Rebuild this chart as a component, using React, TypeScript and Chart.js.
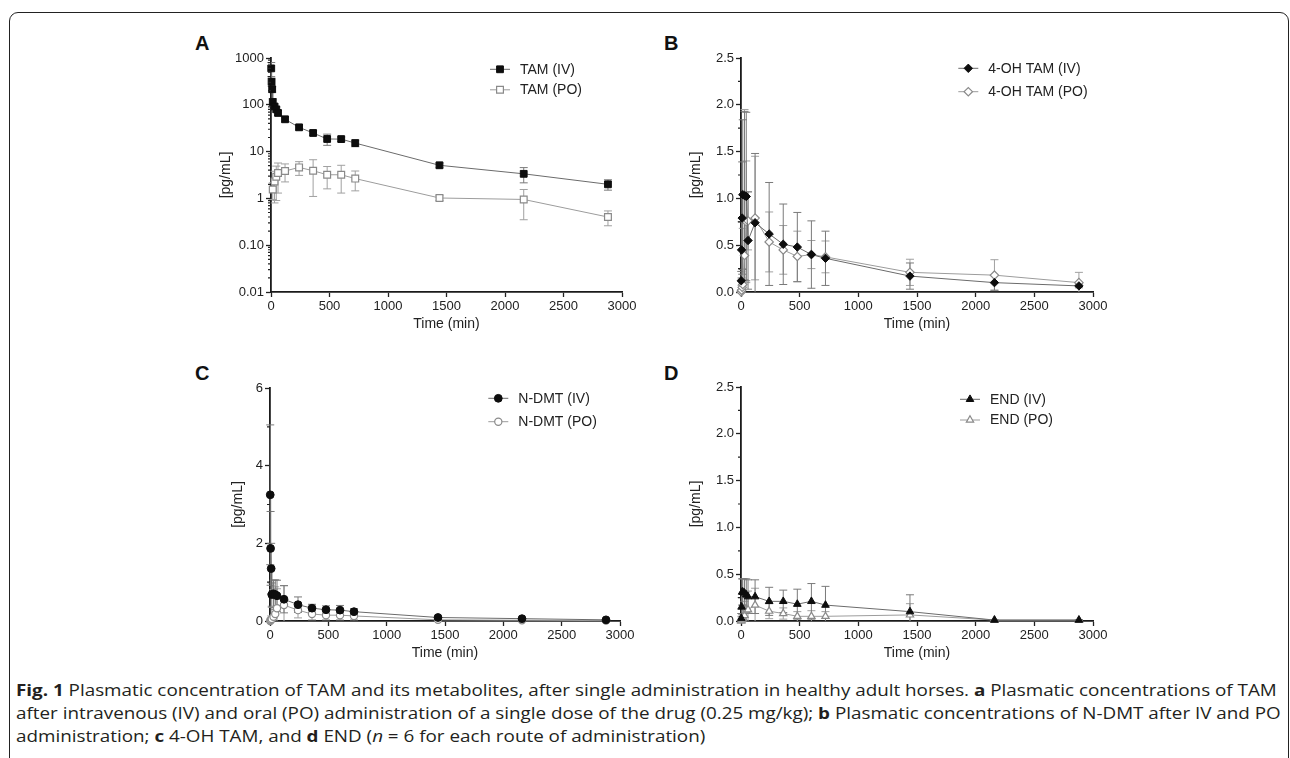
import React, { useEffect, useLayoutEffect, useRef, useState } from 'react';
import { Chart, registerables } from 'chart.js';

Chart.register(...registerables);

const FONT = "'Liberation Sans', Arial, Helvetica, sans-serif";

// ---------------- data ----------------
const TIMES = [2, 5, 10, 15, 30, 45, 60, 120, 240, 360, 480, 600, 720, 1440, 2160, 2880];
const X_TICKS = [0, 500, 1000, 1500, 2000, 2500, 3000];

// Panel A – TAM (log axis)
const TAM_IV = [600, 310, 215, 115, 92, 80, 67, 49, 33, 25, 18.6, 18.5, 15.2, 5.1, 3.35, 2.0];
const TAM_IV_SD = [200, 60, 30, 20, 12, 10, 8, 6, 4, 3, 5, 2, 2.5, 0.6, 1.2, 0.5];
const TAM_PO = [null, null, null, 1.55, 2.3, 2.9, 3.5, 3.85, 4.6, 3.9, 3.2, 3.2, 2.65, 1.02, 0.95, 0.4];
const TAM_PO_SD = [0, 0, 0, 0.6, 1.5, 2.0, 2.2, 1.6, 1.5, 2.8, 1.6, 1.9, 1.2, 0.12, 0.6, 0.14];
const A_TICKS = [0.01, 0.1, 1, 10, 100, 1000];
const A_TICK_LABELS = ['0.01', '0.10', '1', '10', '100', '1000'];

// Panel B – 4-OH TAM
const OH_IV = [0.12, 0.45, 0.79, 1.04, 1.03, 1.02, 0.55, 0.74, 0.62, 0.51, 0.48, 0.4, 0.36, 0.17, 0.1, 0.065];
const OH_IV_SD = [0.1, 0.3, 0.6, 0.8, 0.9, 0.9, 0.52, 0.74, 0.55, 0.43, 0.37, 0.36, 0.29, 0.14, 0.08, 0.02];
const OH_PO = [0.0, 0.02, 0.05, 0.08, 0.39, 0.75, 0.76, 0.79, 0.535, 0.45, 0.38, 0.4, 0.375, 0.21, 0.18, 0.1];
const OH_PO_SD = [0, 0.05, 0.2, 0.6, 1.56, 0.65, 0.31, 0.66, 0.32, 0.26, 0.27, 0.15, 0.17, 0.14, 0.165, 0.11];
const B_TICKS = [0, 0.5, 1, 1.5, 2, 2.5];
const B_TICK_LABELS = ['0.0', '0.5', '1.0', '1.5', '2.0', '2.5'];
const B_MINOR = [0.25, 0.75, 1.25, 1.75, 2.25];

// Panel C – N-DMT
const NDMT_IV = [3.25, 1.87, 1.35, 0.68, 0.7, 0.68, 0.65, 0.56, 0.42, 0.33, 0.29, 0.28, 0.24, 0.09, 0.06, 0.03];
const NDMT_IV_SD = [1.8, 0.95, 0.65, 0.3, 0.35, 0.38, 0.4, 0.35, 0.2, 0.1, 0.1, 0.12, 0.08, 0.03, 0.03, 0.01];
const NDMT_PO = [0.0, 0.02, 0.03, 0.05, 0.11, 0.18, 0.33, 0.41, 0.28, 0.18, 0.15, 0.15, 0.13, 0.03, 0.02, 0.01];
const NDMT_PO_SD = [0, 0.05, 0.1, 0.3, 0.7, 0.7, 0.5, 0.5, 0.2, 0.15, 0.12, 0.12, 0.1, 0.02, 0.02, 0.01];
const C_TICKS = [0, 2, 4, 6];
const C_TICK_LABELS = ['0', '2', '4', '6'];
const C_MINOR = [1, 3, 5];

// Panel D – END
const END_IV = [0.03, 0.15, 0.31, 0.31, 0.3, 0.28, 0.26, 0.26, 0.21, 0.21, 0.18, 0.21, 0.17, 0.1, 0.01, 0.01];
const END_IV_SD = [0.05, 0.1, 0.14, 0.14, 0.15, 0.17, 0.18, 0.18, 0.15, 0.12, 0.16, 0.19, 0.2, 0.18, 0.005, 0.005];
const END_PO = [0.0, 0.01, 0.02, 0.04, 0.06, 0.11, 0.12, 0.17, 0.105, 0.08, 0.05, 0.05, 0.05, 0.065, 0.01, 0.01];
const END_PO_SD = [0, 0.02, 0.05, 0.1, 0.15, 0.2, 0.2, 0.18, 0.08, 0.06, 0.05, 0.06, 0.05, 0.12, 0.005, 0.005];

// log minor tick positions for panel A
const A_MINOR: number[] = [];
for (let d = 0; d < A_TICKS.length - 1; d++) {
  for (let m = 2; m <= 9; m++) A_MINOR.push(A_TICKS[d] * m);
}

// ---------------- helpers ----------------
function drawMarker(ctx: CanvasRenderingContext2D, style: string, x: number, y: number, r: number, fill: string, stroke: string, lw: number) {
  ctx.beginPath();
  if (style === 'rect') {
    const s = Math.SQRT1_2 * r;
    ctx.rect(x - s, y - s, 2 * s, 2 * s);
  } else if (style === 'rectRot') {
    ctx.moveTo(x - r, y);
    ctx.lineTo(x, y - r);
    ctx.lineTo(x + r, y);
    ctx.lineTo(x, y + r);
    ctx.closePath();
  } else if (style === 'triangle') {
    let rad = 0;
    ctx.moveTo(x + Math.sin(rad) * r, y - Math.cos(rad) * r);
    rad += (2 * Math.PI) / 3;
    ctx.lineTo(x + Math.sin(rad) * r, y - Math.cos(rad) * r);
    rad += (2 * Math.PI) / 3;
    ctx.lineTo(x + Math.sin(rad) * r, y - Math.cos(rad) * r);
    ctx.closePath();
  } else {
    ctx.arc(x, y, r, 0, Math.PI * 2);
  }
  ctx.fillStyle = fill;
  ctx.fill();
  ctx.lineWidth = lw;
  ctx.strokeStyle = stroke;
  ctx.stroke();
}

const errorBarsPlugin = {
  id: 'errorBars',
  beforeDatasetsDraw(chart: any) {
    const ctx = chart.ctx;
    const xs = chart.scales.x;
    const ys = chart.scales.y;
    const datasets = chart.data.datasets;
    for (let di = datasets.length - 1; di >= 0; di--) {
      const ds = datasets[di];
      if (!ds.sd) continue;
      ctx.save();
      ctx.strokeStyle = ds.errColor;
      ctx.lineWidth = 1;
      ds.data.forEach((pt: any, i: number) => {
        const s = ds.sd[i];
        if (pt.y == null || !s) return;
        const px = xs.getPixelForValue(pt.x);
        const hi = ys.getPixelForValue(pt.y + s);
        const loV = pt.y - s;
        const hasLo = loV > ys.min;
        const lo = hasLo ? ys.getPixelForValue(loV) : ys.bottom;
        const cw = 4;
        ctx.beginPath();
        ctx.moveTo(px, hi);
        ctx.lineTo(px, lo);
        ctx.moveTo(px - cw, hi);
        ctx.lineTo(px + cw, hi);
        if (hasLo) {
          ctx.moveTo(px - cw, lo);
          ctx.lineTo(px + cw, lo);
        }
        ctx.stroke();
      });
      ctx.restore();
    }
  },
};

const minorTicksPlugin = {
  id: 'minorTicks',
  afterDraw(chart: any, _args: any, opts: any) {
    if (!opts || !opts.values) return;
    const ys = chart.scales.y;
    const ctx = chart.ctx;
    ctx.save();
    ctx.strokeStyle = '#222';
    ctx.lineWidth = 1.2;
    ctx.beginPath();
    opts.values.forEach((v: number) => {
      const py = ys.getPixelForValue(v);
      ctx.moveTo(chart.chartArea.left - 3, py);
      ctx.lineTo(chart.chartArea.left, py);
    });
    ctx.stroke();
    ctx.restore();
  },
};

const legendPlugin = {
  id: 'customLegend',
  afterDraw(chart: any, _args: any, opts: any) {
    if (!opts || opts.x == null) return;
    const ctx = chart.ctx;
    chart.data.datasets.forEach((ds: any, i: number) => {
      const y = opts.rows[i];
      ctx.save();
      ctx.strokeStyle = ds.borderColor;
      ctx.lineWidth = 1;
      ctx.beginPath();
      ctx.moveTo(opts.x, y);
      ctx.lineTo(opts.x + 20, y);
      ctx.stroke();
      drawMarker(ctx, ds.pointStyle, opts.x + 10, y, ds.pointRadius, ds.pointBackgroundColor, ds.pointBorderColor, ds.pointBorderWidth);
      ctx.fillStyle = '#222';
      ctx.font = `14px ${FONT}`;
      ctx.textBaseline = 'middle';
      ctx.textAlign = 'left';
      ctx.fillText(ds.label, opts.x + 30, y + 0.5);
      ctx.restore();
    });
  },
};

type Spec = {
  x: number; y: number; w: number; h: number; yW: number;
  log?: boolean; yMin: number; yMax: number; yTicks: number[]; yLabels: string[]; minor: number[];
  iv: (number | null)[]; ivSd: number[]; po: (number | null)[]; poSd: number[];
  ivLabel: string; poLabel: string; marker: string; r: number; rPo: number;
  legendX: number; legendRows: number[];
};

function buildConfig(s: Spec): any {
  const mk = (label: string, vals: (number | null)[], sd: number[], filled: boolean, r: number) => ({
    label,
    data: TIMES.map((t, i) => ({ x: t, y: vals[i] })),
    sd,
    errColor: filled ? '#7a7a7a' : '#a0a0a0',
    borderColor: filled ? '#6b6b6b' : '#9c9c9c',
    borderWidth: 1,
    pointStyle: s.marker,
    pointRadius: r,
    pointHoverRadius: r,
    pointBackgroundColor: filled ? '#0d0d0d' : '#ffffff',
    pointBorderColor: filled ? '#0d0d0d' : '#8a8a8a',
    pointBorderWidth: filled ? 1 : 1.2,
    spanGaps: true,
    clip: false,
    tension: 0,
    fill: false,
  });
  return {
    type: 'line',
    data: {
      datasets: [mk(s.ivLabel, s.iv, s.ivSd, true, s.r), mk(s.poLabel, s.po, s.poSd, false, s.rPo)],
    },
    plugins: [errorBarsPlugin, minorTicksPlugin, legendPlugin],
    options: {
      animation: false,
      responsive: false,
      devicePixelRatio: 1,
      events: [],
      layout: { padding: { left: 0, top: 28, right: 20, bottom: 0 } },
      plugins: {
        legend: { display: false },
        tooltip: { enabled: false },
        minorTicks: { values: s.minor },
        customLegend: { x: s.legendX, rows: s.legendRows },
      },
      scales: {
        x: {
          type: 'linear',
          min: 0,
          max: 3000,
          afterBuildTicks: (sc: any) => {
            sc.ticks = X_TICKS.map((v) => ({ value: v }));
          },
          afterFit: (sc: any) => {
            sc.height = 41;
          },
          ticks: {
            autoSkip: false,
            maxRotation: 0,
            padding: 2,
            color: '#222',
            font: { family: FONT, size: 13 },
            callback: (_v: any, i: number) => String(X_TICKS[i]),
          },
          grid: { drawOnChartArea: false, drawTicks: true, tickLength: 5, tickColor: '#222', tickWidth: 1.3 },
          border: { color: '#1a1a1a', width: 1.8 },
          title: { display: true, text: 'Time (min)', color: '#222', font: { family: FONT, size: 14 }, padding: 0 },
        },
        y: {
          type: s.log ? 'logarithmic' : 'linear',
          min: s.yMin,
          max: s.yMax,
          afterBuildTicks: (sc: any) => {
            sc.ticks = s.yTicks.map((v) => ({ value: v }));
          },
          afterFit: (sc: any) => {
            sc.width = s.yW;
          },
          ticks: {
            autoSkip: false,
            padding: 2,
            color: '#222',
            font: { family: FONT, size: 13 },
            callback: (_v: any, i: number) => s.yLabels[i],
          },
          grid: { drawOnChartArea: false, drawTicks: true, tickLength: 5, tickColor: '#222', tickWidth: 1.3 },
          border: { color: '#1a1a1a', width: 1.8 },
          title: { display: true, text: '[pg/mL]', color: '#222', font: { family: FONT, size: 14 }, padding: 0 },
        },
      },
    },
  };
}

const SPECS: Spec[] = [
  {
    x: 218, y: 30, w: 424, h: 303, yW: 53, log: true, yMin: 0.01, yMax: 1000,
    yTicks: A_TICKS, yLabels: A_TICK_LABELS, minor: A_MINOR,
    iv: TAM_IV, ivSd: TAM_IV_SD, po: TAM_PO, poSd: TAM_PO_SD,
    ivLabel: 'TAM (IV)', poLabel: 'TAM (PO)', marker: 'rect', r: 4.8, rPo: 4.8,
    legendX: 272, legendRows: [39.3, 59.8],
  },
  {
    x: 688, y: 30, w: 425, h: 303, yW: 53, yMin: 0, yMax: 2.5,
    yTicks: B_TICKS, yLabels: B_TICK_LABELS, minor: B_MINOR,
    iv: OH_IV, ivSd: OH_IV_SD, po: OH_PO, poSd: OH_PO_SD,
    ivLabel: '4-OH TAM (IV)', poLabel: '4-OH TAM (PO)', marker: 'rectRot', r: 4.2, rPo: 4.2,
    legendX: 270.3, legendRows: [38.3, 61.7],
  },
  {
    x: 230, y: 360, w: 410, h: 302, yW: 40, yMin: 0, yMax: 6,
    yTicks: C_TICKS, yLabels: C_TICK_LABELS, minor: C_MINOR,
    iv: NDMT_IV, ivSd: NDMT_IV_SD, po: NDMT_PO, poSd: NDMT_PO_SD,
    ivLabel: 'N-DMT (IV)', poLabel: 'N-DMT (PO)', marker: 'circle', r: 3.9, rPo: 3.6,
    legendX: 258.3, legendRows: [38.3, 61.7],
  },
  {
    x: 688, y: 359, w: 425, h: 303, yW: 53, yMin: 0, yMax: 2.5,
    yTicks: B_TICKS, yLabels: B_TICK_LABELS, minor: B_MINOR,
    iv: END_IV, ivSd: END_IV_SD, po: END_PO, poSd: END_PO_SD,
    ivLabel: 'END (IV)', poLabel: 'END (PO)', marker: 'triangle', r: 4.4, rPo: 4.2,
    legendX: 272, legendRows: [40.3, 61],
  },
];

function Panel({ spec }: { spec: Spec }) {
  const ref = useRef<HTMLCanvasElement>(null);
  useEffect(() => {
    const chart = new Chart(ref.current as HTMLCanvasElement, buildConfig(spec));
    return () => chart.destroy();
  }, [spec]);
  return (
    <canvas
      ref={ref}
      width={spec.w}
      height={spec.h}
      style={{ position: 'absolute', left: spec.x, top: spec.y, width: spec.w, height: spec.h }}
    />
  );
}

const PANEL_LETTERS = [
  { t: 'A', x: 195, y: 33 },
  { t: 'B', x: 664, y: 33 },
  { t: 'C', x: 195, y: 363 },
  { t: 'D', x: 664, y: 363 },
];

export default function App() {
  const line1 = useRef<HTMLSpanElement>(null);
  const [scale, setScale] = useState(1);
  useLayoutEffect(() => {
    if (line1.current) {
      const w = line1.current.offsetWidth;
      if (w > 0) setScale(1261 / w);
    }
  }, []);

  return (
    <div style={{ position: 'fixed', left: 0, top: 0, width: 1290, height: 758, overflow: 'hidden', background: '#fff' }}>
      <div
        style={{
          position: 'absolute', left: 9, top: 12, width: 1280, height: 800,
          border: '1.5px solid #222', borderRadius: 9, boxSizing: 'border-box',
        }}
      />
      {SPECS.map((s, i) => (
        <Panel key={i} spec={s} />
      ))}
      {PANEL_LETTERS.map((p) => (
        <div
          key={p.t}
          style={{
            position: 'absolute', left: p.x, top: p.y, fontFamily: FONT, fontWeight: 'bold',
            fontSize: 20, lineHeight: '20px', color: '#111',
          }}
        >
          {p.t}
        </div>
      ))}
      <div
        style={{
          position: 'absolute', left: 16, top: 679, fontFamily: "'Open Sans', 'Liberation Sans', sans-serif",
          fontSize: 16, lineHeight: '23px', color: '#231f20', whiteSpace: 'nowrap',
          transformOrigin: '0 0', transform: `scaleX(${scale})`,
        }}
      >
        <div>
          <span ref={line1}>
            <b>Fig. 1</b> Plasmatic concentration of TAM and its metabolites, after single administration in healthy adult horses. <b>a</b> Plasmatic concentrations of TAM
          </span>
        </div>
        <div>
          after intravenous (IV) and oral (PO) administration of a single dose of the drug (0.25 mg/kg); <b>b</b> Plasmatic concentrations of N-DMT after IV and PO
        </div>
        <div>
          administration; <b>c</b> 4-OH TAM, and <b>d</b> END (<i>n</i> = 6 for each route of administration)
        </div>
      </div>
    </div>
  );
}
